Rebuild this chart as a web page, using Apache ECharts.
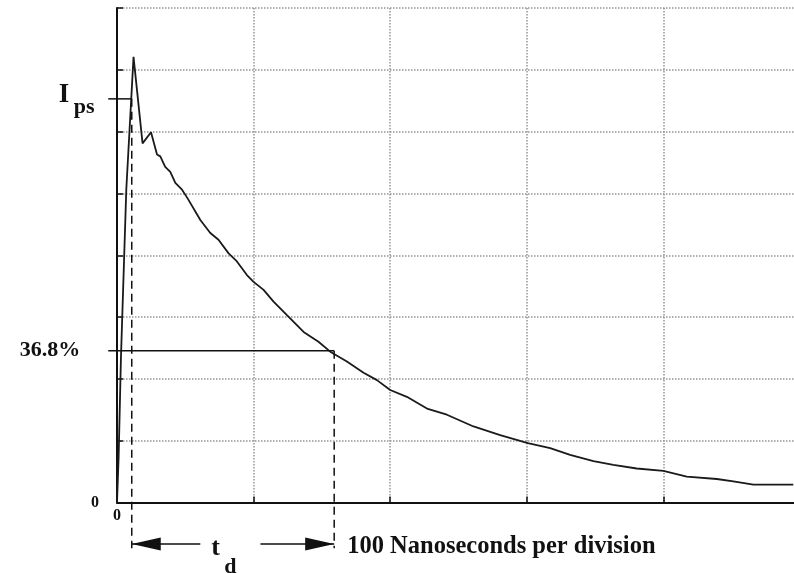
<!DOCTYPE html>
<html>
<head>
<meta charset="utf-8">
<script src="https://cdn.jsdelivr.net/npm/echarts@6/dist/echarts.min.js"></script>
<style>
  html, body { margin: 0; padding: 0; background: #fff; }
  #chart { width: 794px; height: 573px; }
</style>
</head>
<body>
<div id="chart"></div>
<script>
// time in ns, current in vertical divisions
const timeNs = [0, 1.2, 2.9, 6.8, 12.1, 18.7, 24.9, 29.3, 31.7, 35.3, 39.0, 42.7, 47.6, 51.7,
  61.0, 68.3, 74.3, 81.7, 87.8, 95.1, 100.0, 107.3, 114.6, 124.4, 136.6, 147.5, 156.1,
  168.3, 180.5, 190.3, 200.0, 212.2, 226.9, 241.5, 261.0, 280.5, 300.8, 317.1, 331.7,
  348.8, 363.4, 380.5, 400.0, 417.1, 439.1, 451.2, 465.9, 495.1];
const currentDiv = [0, 0.74, 2.35, 5.06, 7.21, 5.81, 5.99, 5.63, 5.60, 5.43, 5.35, 5.17, 5.06, 4.92,
  4.57, 4.36, 4.25, 4.03, 3.90, 3.68, 3.57, 3.44, 3.25, 3.03, 2.76, 2.60, 2.44,
  2.28, 2.10, 1.98, 1.82, 1.71, 1.52, 1.42, 1.23, 1.09, 0.96, 0.88, 0.77,
  0.67, 0.61, 0.55, 0.51, 0.42, 0.38, 0.34, 0.29, 0.29];

const ipsLevel = 6.53;          // peak current marker
const tauLevel = 2.456;         // 36.8 % of Ips
const tdStart = 10.8;           // ns
const tdEnd = 159;              // ns
const arrowLevel = -0.67;       // row of the td arrows, below the axis
const dashBottom = -0.74;
const labelLeft = -6.4;         // ns, where the level lines start
const tdGap = [61, 105];        // ns, gap in the arrow line for "td"

const serif = '"Liberation Serif", "DejaVu Serif", serif';

const chart = echarts.init(document.getElementById('chart'));

const gridLine = { color: '#959595', width: 1.5, type: [1.5, 1.5] };

const option = {
  animation: false,
  grid: { left: 117, top: 8, width: 683, height: 494.5, outerBoundsMode: 'none' },
  xAxis: {
    type: 'value', min: 0, max: 500, interval: 100,
    axisLine: { lineStyle: { color: '#111', width: 2 } },
    axisTick: { inside: true, length: 6, lineStyle: { color: '#111', width: 1.5 } },
    axisLabel: {
      margin: 5, color: '#111', fontFamily: serif, fontWeight: 'bold', fontSize: 16,
      formatter: v => (v === 0 ? '0' : '')
    },
    splitLine: { show: true, lineStyle: gridLine }
  },
  yAxis: {
    type: 'value', min: 0, max: 8, interval: 1,
    axisLine: { show: true, lineStyle: { color: '#111', width: 2 } },
    axisTick: { show: true, inside: true, length: 6, lineStyle: { color: '#111', width: 1.5 } },
    axisLabel: {
      margin: 18, color: '#111', fontFamily: serif, fontWeight: 'bold', fontSize: 16,
      formatter: v => (v === 0 ? '0' : '')
    },
    splitLine: { show: true, lineStyle: gridLine }
  },
  series: [
    {
      type: 'line', symbol: 'none', clip: false,
      lineStyle: { color: '#1a1a1a', width: 1.8 },
      data: timeNs.map((t, i) => [t, currentDiv[i]])
    },
    // dashed drops to the td arrows
    {
      type: 'line', symbol: 'none', clip: false,
      lineStyle: { color: '#111', width: 1.5, type: [8, 5] },
      data: [[tdStart, ipsLevel], [tdStart, dashBottom]]
    },
    {
      type: 'line', symbol: 'none', clip: false,
      lineStyle: { color: '#111', width: 1.5, type: [8, 5] },
      data: [[tdEnd, tauLevel], [tdEnd, dashBottom]]
    },
    // arrow shafts
    {
      type: 'line', symbol: 'none', clip: false,
      lineStyle: { color: '#111', width: 1.5 },
      data: [[tdStart, arrowLevel], [tdGap[0], arrowLevel]]
    },
    {
      type: 'line', symbol: 'none', clip: false,
      lineStyle: { color: '#111', width: 1.5 },
      data: [[tdGap[1], arrowLevel], [tdEnd, arrowLevel]]
    },
    // arrow heads
    {
      type: 'scatter', clip: false, symbol: 'triangle', symbolSize: [13, 29], symbolRotate: 90,
      itemStyle: { color: '#111', opacity: 1 },
      data: [[tdStart + 10.6, arrowLevel]]
    },
    {
      type: 'scatter', clip: false, symbol: 'triangle', symbolSize: [13, 29], symbolRotate: -90,
      itemStyle: { color: '#111', opacity: 1 },
      data: [[tdEnd - 10.6, arrowLevel]]
    }
  ]
};

chart.setOption(option);

const px = (x, y) => chart.convertToPixel({ gridIndex: 0 }, [x, y]);
const ipsA = px(labelLeft, ipsLevel), ipsB = px(tdStart, ipsLevel);
const tauA = px(labelLeft, tauLevel), tauB = px(tdEnd, tauLevel);
const arrowL = px(tdGap[0], arrowLevel);
const arrowR = px(tdEnd, arrowLevel);

function label(text, x, y, size, align) {
  return {
    type: 'text', x: x, y: y, silent: true, z: 10,
    style: {
      text: text, fill: '#111', font: 'bold ' + size + 'px ' + serif,
      align: align || 'left', verticalAlign: 'middle'
    }
  };
}

function level(a, b) {
  return {
    type: 'line', silent: true, z: 10,
    shape: { x1: a[0], y1: a[1], x2: b[0], y2: b[1] },
    style: { stroke: '#111', lineWidth: 1.5 }
  };
}

chart.setOption({
  graphic: [
    level(ipsA, ipsB),
    level(tauA, tauB),
    label('I', ipsB[0] - 73, ipsB[1] - 4, 27),
    label('ps', ipsB[0] - 58, ipsB[1] + 8.5, 22),
    label('36.8%', tauA[0] - 28, tauA[1], 22, 'right'),
    label('t', arrowL[0] + 11, arrowL[1] + 4, 26),
    label('d', arrowL[0] + 24, arrowL[1] + 23.5, 22),
    label('100 Nanoseconds per division', arrowR[0] + 13, arrowR[1] + 3, 24.5)
  ]
});
</script>
</body>
</html>
